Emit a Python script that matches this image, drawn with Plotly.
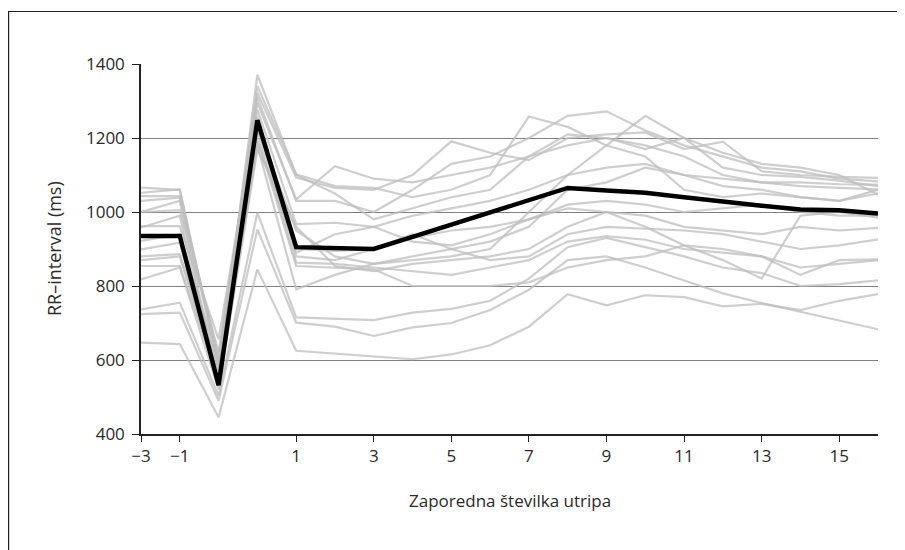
import plotly.graph_objects as go

# x positions of beats (categorical spacing: -3, -1, pre-ectopic, ectopic, 1..16)
beat_pos = [-3, -2, -1, 0, 1, 2, 3, 4, 5, 6, 7, 8, 9, 10, 11, 12, 13, 14, 15, 16]
tick_pos = [-3, -2, 1, 3, 5, 7, 9, 11, 13, 15]
tick_labels = ["\u22123", "\u22121", "1", "3", "5", "7", "9", "11", "13", "15"]
y_ticks = [400, 600, 800, 1000, 1200, 1400]

mean_rr = [935, 935, 532, 1248, 905, 902, 900, 933, 966, 999, 1032, 1065, 1058, 1052, 1040, 1027, 1017, 1007, 1005, 996]

p01 = [647, 643, 445, 845, 625, 618, 611, 602, 615, 640, 690, 778, 748, 775, 770, 745, 752, 735, 760, 778]
p02 = [724, 728, 490, 953, 701, 690, 665, 688, 700, 735, 790, 870, 880, 850, 815, 780, 754, 730, 705, 683]
p03 = [737, 755, 503, 998, 715, 712, 708, 728, 738, 760, 820, 905, 930, 905, 880, 850, 835, 800, 805, 815]
p04 = [818, 850, 520, 1169, 960, 854, 840, 860, 870, 880, 900, 960, 1000, 960, 910, 900, 880, 850, 860, 870]
p05 = [854, 854, 548, 1200, 854, 850, 845, 800, 800, 800, 810, 850, 870, 880, 910, 870, 820, 990, 1000, 985]
p06 = [880, 886, 560, 1220, 863, 860, 850, 840, 830, 850, 870, 920, 935, 925, 900, 890, 880, 830, 870, 872]
p07 = [899, 917, 575, 1240, 880, 870, 900, 940, 900, 870, 880, 940, 960, 955, 950, 940, 920, 900, 910, 926]
p08 = [922, 940, 593, 1260, 890, 940, 960, 920, 910, 940, 980, 1010, 1000, 990, 960, 950, 940, 960, 950, 957]
p09 = [962, 962, 656, 1277, 967, 971, 960, 990, 1010, 1030, 1060, 1100, 1120, 1130, 1100, 1090, 1080, 1070, 1065, 1061]
p10 = [1000, 1005, 620, 1295, 1034, 1124, 1090, 1080, 1100, 1120, 1150, 1180, 1200, 1180, 1150, 1100, 1080, 1080, 1075, 1074]
p11 = [1030, 1039, 610, 1310, 1030, 1030, 1000, 1060, 1130, 1150, 1200, 1260, 1272, 1220, 1180, 1150, 1120, 1110, 1090, 1083]
p12 = [1043, 1043, 600, 1322, 1093, 1065, 1060, 1100, 1191, 1160, 1140, 1200, 1210, 1215, 1170, 1190, 1110, 1100, 1095, 1092]
p13 = [1052, 1061, 585, 1340, 1102, 1070, 1065, 1040, 1060, 1100, 1258, 1230, 1180, 1260, 1200, 1120, 1100, 1095, 1085, 1070]
p14 = [1066, 1060, 570, 1371, 1100, 1050, 980, 1010, 1040, 1060, 1150, 1210, 1200, 1170, 1200, 1160, 1130, 1120, 1100, 1047]
p15 = [1000, 1030, 530, 1230, 950, 880, 860, 880, 900, 920, 960, 1060, 1080, 1120, 1100, 1070, 1060, 1040, 1030, 1050]
p16 = [958, 990, 535, 1190, 900, 895, 900, 930, 950, 960, 980, 1020, 1030, 1020, 1000, 1010, 1020, 1000, 990, 990]
p17 = [870, 880, 540, 1180, 791, 830, 860, 870, 880, 900, 1000, 1100, 1180, 1150, 1060, 1040, 1050, 1040, 1030, 1060]

patients = [p01, p02, p03, p04, p05, p06, p07, p08, p09, p10, p11, p12, p13, p14, p15, p16, p17]

FONT = "'Open Sans', Roboto, sans-serif"
TXT = "#2a2a2a"

fig = go.Figure()
for p in patients:
    fig.add_trace(go.Scatter(x=beat_pos, y=p, mode="lines",
                             line=dict(color="rgba(190,190,190,0.75)", width=2.2),
                             showlegend=False, hoverinfo="skip"))
fig.add_trace(go.Scatter(x=beat_pos, y=mean_rr, mode="lines",
                         line=dict(color="#000000", width=4.5),
                         showlegend=False))

# page has an 8px body margin; figure coordinates are page coordinates minus 8
OFF = 8
W, H = 905 - OFF, 550 - OFF
L, T = 141 - OFF, 64 - OFF
R = W - (878 - OFF)
B = H - (434 - OFF)
pw, ph = W - L - R, H - T - B

def px_x(v):  # page px -> paper
    return (v - OFF - L) / pw

def px_y(v):
    return (H - B - (v - OFF)) / ph

fig.update_layout(
    width=W, height=H,
    margin=dict(l=L, r=R, t=T, b=B),
    paper_bgcolor="white", plot_bgcolor="white",
    font=dict(family=FONT, size=17, color=TXT),
    xaxis=dict(range=[-3, 16], tickmode="array", tickvals=tick_pos, ticktext=tick_labels,
               showgrid=False, zeroline=False, showline=True, linecolor="#222222", linewidth=1.5,
               ticks="outside", ticklen=6, tickwidth=1, tickcolor="#222222",
               tickfont=dict(family=FONT, size=17, color=TXT)),
    yaxis=dict(range=[400, 1400], tickmode="array", tickvals=y_ticks,
               showgrid=True, gridcolor="#7f7f7f", gridwidth=1, zeroline=False,
               showline=True, linecolor="#222222", linewidth=1.5,
               ticks="outside", ticklen=7, tickwidth=1, tickcolor="#222222",
               ticklabelstandoff=4,
               tickfont=dict(family=FONT, size=17, color=TXT)),
    annotations=[
        dict(text="Zaporedna številka utripa", xref="paper", yref="paper",
             x=0.5, y=px_y(500), xanchor="center", yanchor="middle", showarrow=False,
             font=dict(family=FONT, size=17, color=TXT)),
        dict(text="RR–interval (ms)", xref="paper", yref="paper",
             x=px_x(54), y=px_y(249), xanchor="center", yanchor="middle",
             showarrow=False, textangle=-90,
             font=dict(family=FONT, size=18, color=TXT)),
    ],
    shapes=[
        dict(type="line", xref="paper", yref="paper", x0=px_x(8.6), x1=px_x(8.6),
             y0=px_y(11), y1=px_y(560), line=dict(color="#222222", width=1.2)),
        dict(type="line", xref="paper", yref="paper", x0=px_x(8.6), x1=px_x(920),
             y0=px_y(11.5), y1=px_y(11.5), line=dict(color="#222222", width=1.2)),
    ],
)

fig.write_html("out.html")
